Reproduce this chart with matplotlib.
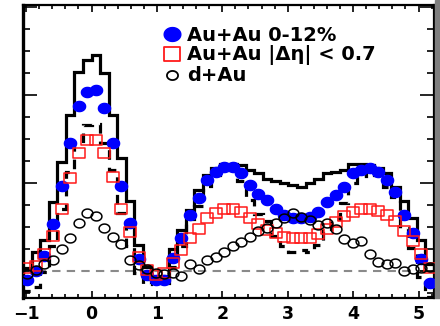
import numpy as np
import matplotlib
matplotlib.use("Agg")
import matplotlib.pyplot as plt
from matplotlib.lines import Line2D
from matplotlib.path import Path
from matplotlib.patches import Rectangle

# per-bin yields, 48 bins over -pi/3 .. 5pi/3 (arbitrary units, 0 = dashed line)
auau_central = [-0.10, 0.00, 0.17, 0.53, 0.97, 1.45, 1.87, 2.03, 2.06, 1.85, 1.46, 0.97, 0.54, 0.14, -0.05, -0.10,
                -0.10, 0.15, 0.375, 0.64, 0.83, 1.03, 1.13, 1.185, 1.185, 1.11, 0.98, 0.88, 0.81, 0.71, 0.64, 0.60,
                0.60, 0.61, 0.67, 0.78, 0.86, 0.96, 1.11, 1.15, 1.17, 1.13, 1.03, 0.90, 0.64, 0.43, 0.14, -0.14]
auau_deta = [0.03, 0.06, 0.19, 0.40, 0.71, 1.06, 1.34, 1.49, 1.49, 1.34, 1.07, 0.71, 0.44, 0.16, 0.01, -0.04,
             -0.02, 0.09, 0.24, 0.37, 0.48, 0.60, 0.66, 0.71, 0.71, 0.67, 0.60, 0.53, 0.47, 0.43, 0.39, 0.37,
             0.37, 0.38, 0.42, 0.48, 0.56, 0.63, 0.67, 0.70, 0.71, 0.68, 0.64, 0.57, 0.46, 0.34, 0.19, 0.03]
dau = [-0.03, 0.01, 0.08, 0.13, 0.25, 0.37, 0.55, 0.66, 0.62, 0.49, 0.39, 0.31, 0.13, 0.07, 0.02, -0.02,
       -0.03, -0.02, -0.06, 0.08, 0.02, 0.13, 0.16, 0.22, 0.28, 0.33, 0.39, 0.45, 0.49, 0.55, 0.60, 0.66,
       0.61, 0.58, 0.52, 0.55, 0.48, 0.36, 0.32, 0.34, 0.19, 0.10, 0.08, 0.09, 0.00, 0.02, 0.03, 0.04]
# systematic band of the central Au+Au data (upper solid, lower dashed)
sys_upper = [0.03, 0.22, 0.35, 0.78, 1.24, 1.77, 2.26, 2.40, 2.45, 2.25, 1.77, 1.28, 0.80, 0.30, 0.05, -0.07,
             -0.06, 0.25, 0.47, 0.69, 0.92, 1.09, 1.17, 1.22, 1.22, 1.20, 1.15, 1.11, 1.05, 1.02, 1.00, 0.98,
             0.96, 1.00, 1.05, 1.11, 1.13, 1.15, 1.22, 1.22, 1.20, 1.17, 1.11, 0.96, 0.79, 0.60, 0.35, 0.08]
sys_lower = [-0.23, -0.18, -0.01, 0.28, 0.70, 1.13, 1.48, 1.66, 1.67, 1.45, 1.15, 0.66, 0.28, -0.02, -0.15, -0.13,
             -0.14, 0.05, 0.28, 0.59, 0.74, 0.97, 1.09, 1.15, 1.15, 1.02, 0.81, 0.65, 0.57, 0.40, 0.28, 0.22,
             0.24, 0.22, 0.29, 0.45, 0.59, 0.77, 1.00, 1.08, 1.14, 1.09, 0.95, 0.84, 0.49, 0.26, -0.07, -0.30]
labels = ["Au+Au 0-12%", "Au+Au |\u0394\u03b7| < 0.7", "d+Au"]
xticks = [-1, 0, 1, 2, 3, 4, 5]


def stretched_circle(aspect):
    t = np.linspace(0, 2 * np.pi, 41)
    return Path(np.column_stack([aspect * np.cos(t), np.sin(t)]), closed=True)


def stretched_square(aspect):
    v = [(-aspect, -1), (aspect, -1), (aspect, 1), (-aspect, 1), (-aspect, -1)]
    return Path(v, closed=True)


edges = np.linspace(-np.pi / 3, 5 * np.pi / 3, len(auau_central) + 1)
centers = 0.5 * (edges[:-1] + edges[1:])

fig = plt.figure(figsize=(4.4, 3.26), dpi=100)
ax = fig.add_axes([23 / 440, 28 / 326, 411 / 440, 293 / 326])

ax.axhline(0, color="#8a8a8a", lw=1.5, ls=(0, (4, 3)), zorder=1)
ax.stairs(sys_upper, edges, color="black", lw=2.3, zorder=2)
ax.stairs(sys_lower, edges, color="black", lw=2.3, ls=(0, (3, 2.5)), zorder=2)

dot = stretched_circle(1.2)
sq = stretched_square(1.18)
ring = stretched_circle(1.22)
ax.plot(centers, auau_central, ls="none", marker=dot, ms=8.8, color="#0000ff", mec="#0000ff", zorder=3)
ax.plot(centers, auau_deta, ls="none", marker=sq, ms=9.2, mfc="none", mec="#ff1a1a", mew=1.1, zorder=4)
ax.plot(centers, dau, ls="none", marker=ring, ms=7.8, mfc="none", mec="black", mew=1.1, zorder=5)

ax.set_xlim(-np.pi / 3, 5 * np.pi / 3)
ax.set_ylim(-0.307, 3.023)
ax.set_xticks(xticks)
ax.set_xticks(np.arange(-1.0, 5.3, 0.2), minor=True)
ax.set_yticks([0, 1, 2, 3])
ax.set_yticks(np.arange(-0.25, 3.01, 0.25), minor=True)
ax.tick_params(which="both", direction="in", top=True, right=True, width=1.2, colors="black")
ax.tick_params(axis="x", which="major", length=5, pad=5, labelsize=12.5)
ax.tick_params(axis="x", which="minor", length=3)
ax.tick_params(axis="y", which="major", length=10, labelleft=False)
ax.tick_params(axis="y", which="minor", length=5)
for lab in ax.get_xticklabels():
    lab.set_fontweight("bold")
for side, w in [("left", 2.4), ("bottom", 1.6), ("top", 1.6), ("right", 1.6)]:
    ax.spines[side].set_linewidth(w)

handles = [
    Line2D([], [], ls="none", marker=dot, ms=12, color="#0000ff"),
    Line2D([], [], ls="none", marker=sq, ms=12, mfc="none", mec="#ff1a1a", mew=1.3),
    Line2D([], [], ls="none", marker=ring, ms=8, mfc="none", mec="black", mew=1.3),
]
ax.legend(handles, labels, loc="upper left", bbox_to_anchor=(0.338, 0.93), frameon=False,
          handlelength=1.0, handletextpad=0.3, labelspacing=0.05, borderpad=0, borderaxespad=0,
          prop={"weight": "bold", "size": 14})

# edge of the neighbouring panel
fig.patches.append(Rectangle((435 / 440, 28 / 326), 5 / 440, 298 / 326, transform=fig.transFigure,
                             color="#7f7f7f", zorder=0))

fig.savefig("out.png", dpi=100)
